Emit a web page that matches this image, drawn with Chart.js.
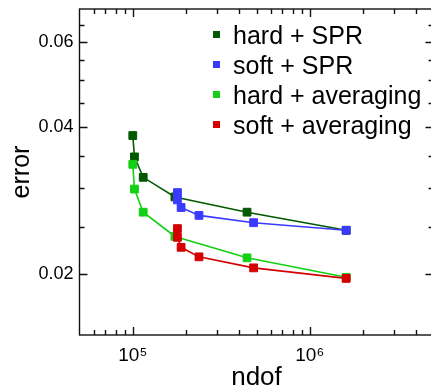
<!DOCTYPE html>
<html>
<head>
<meta charset="utf-8">
<script src="https://cdn.jsdelivr.net/npm/chart.js@4.4.1/dist/chart.umd.min.js"></script>
<style>
  html, body { margin: 0; padding: 0; background: #fff; overflow: hidden; width: 431px; height: 387px; }
  #wrap { position: relative; width: 440px; height: 387px; }
  #legend { position: absolute; left: 213px; top: 20px; font-family: 'Liberation Sans', Arial, sans-serif; font-size: 25px; color: #000; }
  #legend .row { position: relative; height: 30px; line-height: 30px; padding-left: 20px; white-space: nowrap; }
  #legend .box { position: absolute; left: 0; top: 11px; width: 7px; height: 7px; }
</style>
</head>
<body>
<div id="wrap">
  <canvas id="conv" width="440" height="387"></canvas>
  <div id="legend"></div>
</div>
<script>
const seriesNames = ['hard + SPR', 'soft + SPR', 'hard + averaging', 'soft + averaging'];
const seriesColors = ['#005a00', '#3a3aff', '#14d014', '#d40000'];

// mesh sizes (number of degrees of freedom)
const ndofHard = [1.0e5, 1.022e5, 1.145e5, 1.73e5, 4.42e5, 1.606e6];
const ndofSoft = [1.788e5, 1.788e5, 1.875e5, 2.366e5, 4.815e5, 1.606e6];

// error per refinement step
const errHardSPR = [0.0385, 0.0348, 0.0316, 0.0288, 0.0268, 0.0246];
const errSoftSPR = [0.0294, 0.0284, 0.0274, 0.0264, 0.0255, 0.0246];
const errHardAvg = [0.0336, 0.0299, 0.0268, 0.0239, 0.0216, 0.0197];
const errSoftAvg = [0.0248, 0.0238, 0.0227, 0.0217, 0.0206, 0.0196];

const xTickValues = [6e4, 7e4, 8e4, 9e4, 1e5, 2e5, 3e5, 4e5, 5e5, 6e5, 7e5, 8e5, 9e5, 1e6, 2e6, 3e6, 4e6];
const xMajorTicks = [1e5, 1e6];
const xTickLabels = ['10\u2075', '10\u2076'];
const yTickValues = [0.02, 0.025, 0.03, 0.035, 0.04, 0.045, 0.05, 0.055, 0.06, 0.065];
const yMajorTicks = [0.02, 0.04, 0.06];
const yTickLabels = ['0.02', '0.04', '0.06'];

Chart.defaults.font.family = "'Liberation Sans', Arial, sans-serif";
Chart.defaults.color = '#000';

function pairs(xs, ys) {
  return xs.map((x, i) => ({ x: x, y: ys[i] }));
}

const seriesData = [
  pairs(ndofHard, errHardSPR),
  pairs(ndofSoft, errSoftSPR),
  pairs(ndofHard, errHardAvg),
  pairs(ndofSoft, errSoftAvg)
];

// box around the plot with inward tick marks on all four sides
const frameTicks = {
  id: 'frameTicks',
  afterDraw(chart) {
    const { ctx, chartArea: a, scales: { x, y } } = chart;
    ctx.save();
    ctx.strokeStyle = '#111';
    ctx.lineWidth = 1.4;
    ctx.strokeRect(a.left, a.top, a.right - a.left, a.bottom - a.top);
    ctx.beginPath();
    x.ticks.forEach(t => {
      const px = Math.round(x.getPixelForValue(t.value)) + 0.5;
      const len = t.major ? 8 : 5;
      ctx.moveTo(px, a.bottom); ctx.lineTo(px, a.bottom - len);
      ctx.moveTo(px, a.top); ctx.lineTo(px, a.top + len);
    });
    y.ticks.forEach(t => {
      const py = Math.round(y.getPixelForValue(t.value)) + 0.5;
      const len = t.major ? 8 : 5;
      ctx.moveTo(a.left, py); ctx.lineTo(a.left + len, py);
      ctx.moveTo(a.right, py); ctx.lineTo(a.right - len, py);
    });
    ctx.stroke();
    ctx.restore();
  }
};

const chart = new Chart(document.getElementById('conv'), {
  type: 'line',
  data: {
    datasets: seriesData.map((d, i) => ({
      label: seriesNames[i],
      data: d,
      order: seriesData.length - i,   // later series sit on top
      borderColor: seriesColors[i],
      backgroundColor: seriesColors[i],
      borderWidth: 1.6,
      pointStyle: 'rect',
      pointRadius: 5.5,
      pointBorderWidth: 1,
      tension: 0
    }))
  },
  options: {
    responsive: false,
    animation: false,
    devicePixelRatio: 1,
    layout: { padding: { top: 9, right: 3.7, left: 0, bottom: 0 } },
    plugins: { legend: { display: false }, tooltip: { enabled: false } },
    scales: {
      x: {
        type: 'logarithmic',
        min: 5e4,
        max: 5e6,
        grid: { display: false, drawTicks: false },
        border: { display: false },
        afterBuildTicks: s => { s.ticks = xTickValues.map(v => ({ value: v, major: xMajorTicks.includes(v) })); },
        afterFit: s => { s.height = 52; s.paddingLeft = 0; s.paddingRight = 0; },
        ticks: {
          autoSkip: false,
          maxRotation: 0,
          padding: 9,
          font: { size: 19 },
          callback: v => { const k = xMajorTicks.indexOf(v); return k < 0 ? '' : xTickLabels[k]; }
        },
        title: { display: true, text: 'ndof', font: { size: 26, lineHeight: 0.7 }, padding: { top: 0, bottom: 0 } }
      },
      y: {
        type: 'logarithmic',
        min: 0.015,
        max: 0.07,
        grid: { display: false, drawTicks: false },
        border: { display: false },
        afterBuildTicks: s => { s.ticks = yTickValues.map(v => ({ value: v, major: yMajorTicks.includes(v) })); },
        afterFit: s => { s.width = 79.5; s.paddingTop = 0; s.paddingBottom = 0; },
        ticks: {
          autoSkip: false,
          padding: 6,
          font: { size: 18 },
          callback: v => { const k = yMajorTicks.indexOf(v); return k < 0 ? '' : yTickLabels[k]; }
        },
        title: { display: true, text: 'error', font: { size: 25 }, padding: { top: 7, bottom: 0 } }
      }
    }
  },
  plugins: [frameTicks]
});

// legend built from the datasets
const legendEl = document.getElementById('legend');
chart.data.datasets.forEach(ds => {
  const row = document.createElement('div');
  row.className = 'row';
  const box = document.createElement('span');
  box.className = 'box';
  box.style.background = ds.borderColor;
  row.appendChild(box);
  row.appendChild(document.createTextNode(ds.label));
  legendEl.appendChild(row);
});
</script>
</body>
</html>
